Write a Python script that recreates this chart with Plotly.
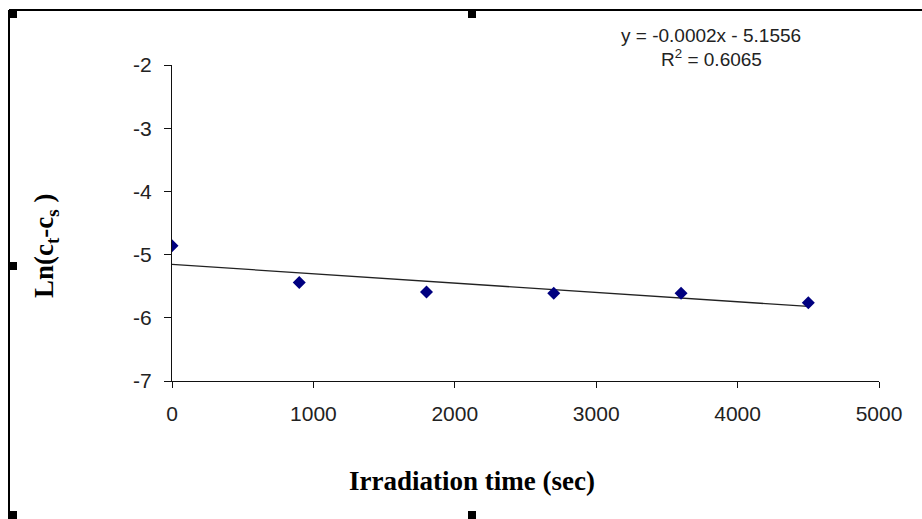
import plotly.graph_objects as go

# ---- data ----
irradiation_time = [0, 900, 1800, 2700, 3600, 4500]
ln_ct_cs = [-4.86, -5.44, -5.59, -5.61, -5.61, -5.76]
trend_x = [0, 4500]
trend_y = [-5.1556, -5.82]
x_ticks = [0, 1000, 2000, 3000, 4000, 5000]
y_ticks = [-7, -6, -5, -4, -3, -2]
eq_text = "y = -0.0002x - 5.1556"
r2_text = "R<sup>2</sup> = 0.6065"

W, H = 922, 519
L, R, T, B = 172, 879, 65, 381  # plot area in px


def px(x):
    return (x - L) / (R - L)


def py(y):
    return (B - y) / (B - T)


fig = go.Figure()
fig.add_trace(go.Scatter(x=trend_x, y=trend_y, mode="lines",
                         line=dict(color="#222222", width=1.3),
                         showlegend=False, hoverinfo="skip"))
fig.add_trace(go.Scatter(x=irradiation_time, y=ln_ct_cs, mode="markers",
                         marker=dict(symbol="diamond", size=10, color="#000080",
                                     line=dict(width=0)),
                         showlegend=False))

tickfont = dict(family="Liberation Sans, Arial, sans-serif", size=21, color="#222222")
fig.update_xaxes(range=[0, 5000], tickvals=x_ticks, ticktext=[str(v) for v in x_ticks],
                 showgrid=False, zeroline=False, showline=True, linecolor="#111111",
                 linewidth=1.3, ticks="outside", ticklen=6, tickcolor="#111111",
                 tickfont=tickfont, ticklabelstandoff=8)
fig.update_yaxes(range=[-7, -2], tickvals=y_ticks, ticktext=[str(v) for v in y_ticks],
                 showgrid=False, zeroline=False, showline=True, linecolor="#111111",
                 linewidth=1.3, ticks="outside", ticklen=7, tickcolor="#111111",
                 tickfont=tickfont, ticklabelstandoff=8)

serif = dict(family="Liberation Serif, Times New Roman, serif", size=27, color="#000000")
eqfont = dict(family="Liberation Sans, Arial, sans-serif", size=19, color="#222222")
annotations = [
    dict(x=px(472), y=py(481), xref="paper", yref="paper", text="<b>Irradiation time (sec)</b>",
         showarrow=False, font=serif, xanchor="center", yanchor="middle"),
    dict(x=px(46), y=py(246), xref="paper", yref="paper",
         text="<b>Ln(c<sub>t</sub>-c<sub>s</sub> )</b>", textangle=-90,
         showarrow=False, font=serif, xanchor="center", yanchor="middle"),
    dict(x=px(711), y=py(36), xref="paper", yref="paper", text=eq_text,
         showarrow=False, font=eqfont, xanchor="center", yanchor="middle"),
    dict(x=px(711), y=py(58), xref="paper", yref="paper", text=r2_text,
         showarrow=False, font=eqfont, xanchor="center", yanchor="middle"),
]

shapes = [
    # frame: top and left borders
    dict(type="line", xref="paper", yref="paper", x0=px(9), x1=px(922), y0=py(10), y1=py(10),
         line=dict(color="#000000", width=2)),
    dict(type="line", xref="paper", yref="paper", x0=px(9), x1=px(9), y0=py(10), y1=py(519),
         line=dict(color="#000000", width=2)),
]
for hx, hy in [(9, 10), (9, 262), (9, 511), (468, 10), (468, 511)]:
    shapes.append(dict(type="rect", xref="paper", yref="paper",
                       x0=px(hx), x1=px(hx + 8), y0=py(hy), y1=py(hy + 8),
                       fillcolor="#000000", line=dict(width=0)))

fig.update_layout(width=W, height=H, autosize=False,
                  margin=dict(l=L, r=W - R, t=T, b=H - B, pad=0),
                  paper_bgcolor="white", plot_bgcolor="white",
                  annotations=annotations, shapes=shapes)

fig.write_html("out.html")
